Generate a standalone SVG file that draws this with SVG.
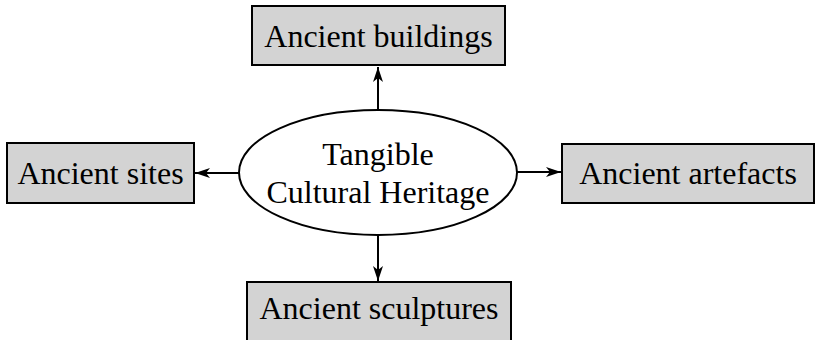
<svg xmlns="http://www.w3.org/2000/svg" width="815" height="340" viewBox="0 0 815 340">
<style>
.box{fill:#d3d3d3;stroke:#000;stroke-width:2}
.ell{fill:#fff;stroke:#000;stroke-width:2}
.t{font-family:"Liberation Serif","Times New Roman",serif;font-size:32px;fill:#000;text-anchor:middle}
.c{stroke:#000;stroke-width:2;fill:none;marker-end:url(#ah)}
</style>
<defs>
<marker id="ah" viewBox="0 0 15 10" refX="15" refY="5" markerWidth="15" markerHeight="10" markerUnits="userSpaceOnUse" orient="auto">
<path d="M0,0 L15,5 L0,10 L4,5 Z" fill="#000"/>
</marker>
</defs>
<rect width="815" height="340" fill="#fff"/>
<g id="connectors">
<line class="c" x1="378" y1="110" x2="378" y2="67"/>
<line class="c" x1="239" y1="173" x2="195" y2="173"/>
<line class="c" x1="517" y1="172" x2="561" y2="172"/>
<line class="c" x1="378" y1="235" x2="378" y2="281"/>
</g>
<g id="center">
<ellipse class="ell" cx="378" cy="172.5" rx="139" ry="62.5"/>
<text class="t" x="378" y="165">Tangible</text>
<text class="t" x="378" y="203">Cultural Heritage</text>
</g>
<g id="buildings">
<rect class="box" x="252" y="6" width="253" height="59"/>
<text class="t" x="378.5" y="47">Ancient buildings</text>
</g>
<g id="sites">
<rect class="box" x="7" y="143" width="187" height="60"/>
<text class="t" x="100.5" y="184">Ancient sites</text>
</g>
<g id="artefacts">
<rect class="box" x="562" y="144" width="252" height="59"/>
<text class="t" x="688" y="184">Ancient artefacts</text>
</g>
<g id="sculptures">
<rect class="box" x="247" y="282" width="264" height="70"/>
<text class="t" x="379" y="319">Ancient sculptures</text>
</g>
</svg>
